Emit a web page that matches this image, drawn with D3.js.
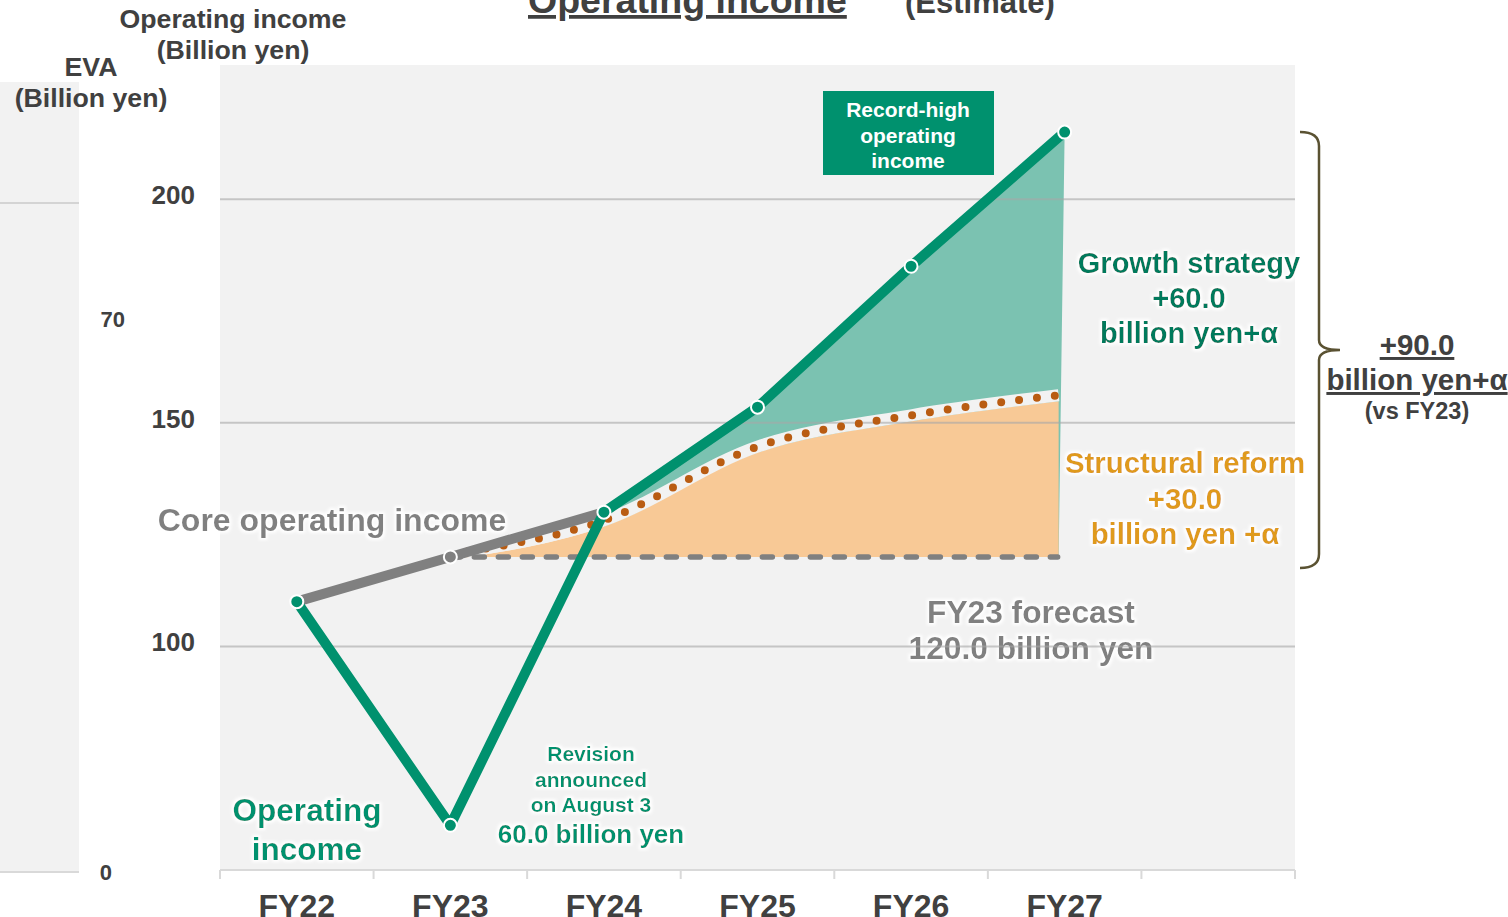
<!DOCTYPE html>
<html>
<head>
<meta charset="utf-8">
<script src="https://cdn.jsdelivr.net/npm/d3@7"></script>
<style>
body { margin: 0; background: #fff; }
svg { display: block; font-family: "Liberation Sans", Arial, sans-serif; font-weight: bold; }
</style>
</head>
<body>
<div id="chart"></div>
<script>
// chart data
var years = ["FY22", "FY23", "FY24", "FY25", "FY26", "FY27"];
var operatingIncome = [110, 60, 130, 153.5, 185, 215];
var coreYears = ["FY22", "FY23", "FY24"];
var coreOperatingIncome = [110, 120, 130];
var reformYears = ["FY23", "FY24", "FY25", "FY26", "FY27"];
var structuralReform = [120, 127.5, 144, 151, 155.5];
var fy23Forecast = 120;
var yTicks = [100, 150, 200];
var evaTickLabels = ["70", "0"];

var width = 1508, height = 917;
var green = "#00916e", darkGreen = "#007a5c", grey = "#808080", text = "#404040";

var svg = d3.select("#chart").append("svg")
	.attr("width", width)
	.attr("height", height);

// white halo behind labels
var glow = svg.append("defs").append("filter").attr("id", "glow")
	.attr("x", "-10%").attr("y", "-20%").attr("width", "120%").attr("height", "140%");
glow.append("feMorphology").attr("in", "SourceAlpha").attr("operator", "dilate").attr("radius", 2).attr("result", "d");
glow.append("feGaussianBlur").attr("in", "d").attr("stdDeviation", 1.5).attr("result", "b");
glow.append("feFlood").attr("flood-color", "#fff");
glow.append("feComposite").attr("in2", "b").attr("operator", "in").attr("result", "w");
var merge = glow.append("feMerge");
merge.append("feMergeNode").attr("in", "w");
merge.append("feMergeNode").attr("in", "SourceGraphic");

//scales
var x = d3.scaleBand().domain(years.concat([""])).range([220, 1295]);
var cx = function(d) { return x(d) + x.bandwidth() / 2; };
var y = d3.scaleLinear().domain([50, 230]).range([870, 65]);

// left (EVA) panel, partly hidden
svg.append("rect").attr("x", 0).attr("y", 82).attr("width", 79).attr("height", 790).attr("fill", "#f2f2f2");
svg.append("line").attr("x1", 0).attr("x2", 79).attr("y1", 203).attr("y2", 203).attr("stroke", "#d4d4d4").attr("stroke-width", 2);
svg.append("line").attr("x1", 0).attr("x2", 79).attr("y1", 872).attr("y2", 872).attr("stroke", "#d9d9d9").attr("stroke-width", 2);

// main plot background
svg.append("rect").attr("x", 220).attr("y", 65).attr("width", 1075).attr("height", 805).attr("fill", "#f2f2f2");

// forecast label sits under the gridline
svg.append("text").attr("x", 1031).attr("y", 623).attr("text-anchor", "middle")
	.attr("font-size", 31.7).attr("fill", grey).attr("filter", "url(#glow)")
	.selectAll("tspan").data(["FY23 forecast", "120.0 billion yen"]).join("tspan")
	.attr("x", 1031).attr("dy", function(d, i) { return i ? 36 : 0; }).text(function(d) { return d; });

// growth strategy fill (from FY24)
var growthPts = years.slice(2).map(function(d, i) { return [cx(d), y(operatingIncome[i + 2])]; });
growthPts.push([cx("FY27") - 6, y(fy23Forecast)], [cx("FY24"), y(fy23Forecast)]);
svg.append("path").attr("d", "M" + growthPts.join("L") + "Z").attr("fill", "#7bc2b1");

// structural reform fill
var reformData = reformYears.map(function(d, i) { return { yr: d, v: structuralReform[i] }; });
var rx = function(d) { return d.yr === "FY27" ? cx(d.yr) - 6 : cx(d.yr); };
svg.append("path").datum(reformData)
	.attr("fill", "#f8c996")
	.attr("d", d3.area().curve(d3.curveMonotoneX)
		.x(rx)
		.y0(y(fy23Forecast))
		.y1(function(d) { return y(d.v) + 3; }));

var reformLine = d3.line().curve(d3.curveMonotoneX)
	.x(rx)
	.y(function(d) { return y(d.v) - 3; });

svg.append("path").datum(reformData).attr("d", reformLine)
	.attr("fill", "none").attr("stroke", "#f2f2f2").attr("stroke-width", 12);

// gridlines
svg.append("g").selectAll("line").data(yTicks).join("line")
	.attr("x1", 220).attr("x2", 1295)
	.attr("y1", function(d) { return y(d); }).attr("y2", function(d) { return y(d); })
	.attr("stroke", "#a6a6a6").attr("stroke-opacity", 0.6).attr("stroke-width", 2);

// x axis line and ticks
svg.append("line").attr("x1", 220).attr("x2", 1295).attr("y1", 870).attr("y2", 870)
	.attr("stroke", "#d9d9d9").attr("stroke-width", 2);
svg.append("g").selectAll("line").data(d3.range(8)).join("line")
	.attr("x1", function(i) { return 220 + i * x.bandwidth(); })
	.attr("x2", function(i) { return 220 + i * x.bandwidth(); })
	.attr("y1", 870).attr("y2", 879)
	.attr("stroke", "#d9d9d9").attr("stroke-width", 2);

// dotted structural reform line
svg.append("path").datum(reformData).attr("d", reformLine)
	.attr("fill", "none").attr("stroke", "#b95c12").attr("stroke-width", 8)
	.attr("stroke-linecap", "round").attr("stroke-dasharray", "0 18");

// FY23 forecast dashed line
svg.append("line")
	.attr("x1", cx("FY23")).attr("x2", cx("FY27") - 7)
	.attr("y1", y(fy23Forecast)).attr("y2", y(fy23Forecast))
	.attr("stroke", grey).attr("stroke-width", 5.5)
	.attr("stroke-linecap", "round").attr("stroke-dasharray", "10 14");

// core operating income
var coreData = coreYears.map(function(d, i) { return { yr: d, v: coreOperatingIncome[i] }; });
svg.append("path").datum(coreData)
	.attr("d", d3.line().x(function(d) { return cx(d.yr); }).y(function(d) { return y(d.v); }))
	.attr("fill", "none").attr("stroke", grey).attr("stroke-width", 10);
svg.append("circle").attr("cx", cx("FY23")).attr("cy", y(coreOperatingIncome[1])).attr("r", 6.5)
	.attr("fill", grey).attr("stroke", "#fff").attr("stroke-width", 2);

// operating income
var opData = years.map(function(d, i) { return { yr: d, v: operatingIncome[i] }; });
svg.append("path").datum(opData)
	.attr("d", d3.line().x(function(d) { return cx(d.yr); }).y(function(d) { return y(d.v); }))
	.attr("fill", "none").attr("stroke", green).attr("stroke-width", 10).attr("stroke-linejoin", "round");
svg.append("g").selectAll("circle").data(opData).join("circle")
	.attr("cx", function(d) { return cx(d.yr); }).attr("cy", function(d) { return y(d.v); })
	.attr("r", 6.5).attr("fill", green).attr("stroke", "#fff").attr("stroke-width", 2);

// axis labels
svg.append("g").selectAll("text").data(yTicks).join("text")
	.attr("x", 195).attr("y", function(d) { return y(d) + 5; })
	.attr("text-anchor", "end").attr("font-size", 26).attr("fill", text)
	.text(function(d) { return d; });
svg.append("text").attr("x", 125).attr("y", 327).attr("text-anchor", "end")
	.attr("font-size", 22).attr("fill", text).text(evaTickLabels[0]);
svg.append("text").attr("x", 112).attr("y", 880).attr("text-anchor", "end")
	.attr("font-size", 22).attr("fill", text).text(evaTickLabels[1]);
svg.append("g").selectAll("text").data(years).join("text")
	.attr("x", cx).attr("y", 917).attr("text-anchor", "middle")
	.attr("font-size", 32).attr("fill", text).text(function(d) { return d; });

// helper for multi-line labels
function label(lines, px, py, size, color, lh, halo) {
	var t = svg.append("text").attr("x", px).attr("y", py).attr("text-anchor", "middle")
		.attr("font-size", size).attr("fill", color);
	if (halo) t.attr("filter", "url(#glow)");
	t.selectAll("tspan").data(lines).join("tspan")
		.attr("x", px).attr("dy", function(d, i) { return i ? lh : 0; })
		.text(function(d) { return d; });
	return t;
}

// titles
svg.append("text").attr("x", 528).attr("y", 13).attr("font-size", 37.5).attr("fill", text)
	.attr("text-decoration", "underline").text("Operating income");
svg.append("text").attr("x", 905).attr("y", 13).attr("font-size", 31).attr("fill", text).text("(Estimate)");
label(["Operating income", "(Billion yen)"], 233, 28, 26.7, text, 31);
label(["EVA", "(Billion yen)"], 91, 76, 26.7, text, 31);

// plot labels
label(["Core operating income"], 332, 531, 32, grey, 0, true);
label(["Operating", "income"], 307, 821, 31.5, green, 39, true);
label(["Revision", "announced", "on August 3"], 591, 761, 21, green, 25.5, true);
label(["60.0 billion yen"], 591, 843, 26, green, 0, true);
label(["Growth strategy", "+60.0", "billion yen+α"], 1189, 273, 29, darkGreen, 35, true);
label(["Structural reform", "+30.0", "billion yen +α"], 1185, 473, 29.4, "#df9a1c", 35.5, true);

// record-high box
svg.append("rect").attr("x", 823).attr("y", 91).attr("width", 171).attr("height", 84).attr("fill", green);
label(["Record-high", "operating", "income"], 908, 117, 21, "#fff", 25.5);

// bracket
svg.append("path")
	.attr("d", "M1300,132 Q1319,132 1319,146 L1319,340 Q1319,350 1340,350 Q1319,350 1319,360 L1319,554 Q1319,568 1300,568")
	.attr("fill", "none").attr("stroke", "#5a5232").attr("stroke-width", 2.5);
label(["+90.0", "billion yen+α"], 1417, 355, 29.5, text, 35).attr("text-decoration", "underline");
label(["(vs FY23)"], 1417, 419, 23.5, text, 0);
</script>
</body>
</html>
